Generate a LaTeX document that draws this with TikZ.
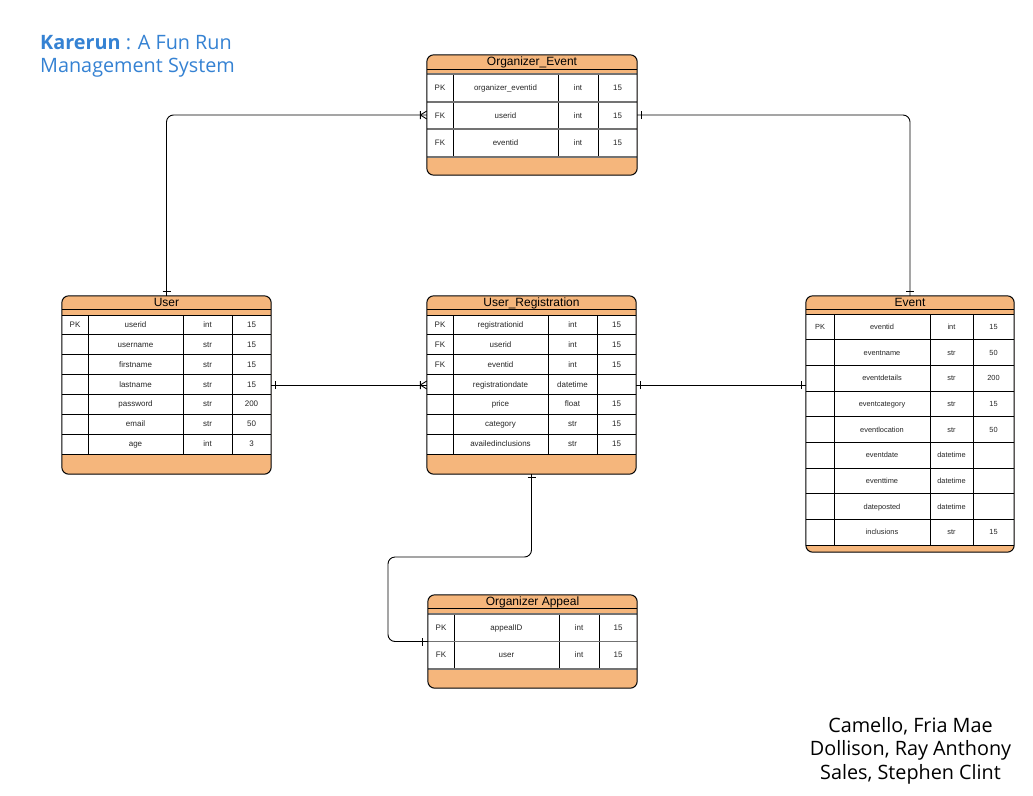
\documentclass[tikz,border=0pt]{standalone}
\usepackage{fontspec}
\setmainfont{Liberation Sans}
\newfontfamily\opensans{Open Sans}
\usetikzlibrary{fit}
\definecolor{tblorange}{HTML}{F5B67C}
\definecolor{ttlblue}{HTML}{3582D3}
\tikzset{
  tblbox/.style={inner sep=0pt, fill=tblorange, rounded corners=7pt},
  tblborder/.style={draw=black, line width=1pt, rounded corners=7pt},
  tblline/.style={draw=black, line width=0.9pt},
  sepline/.style={draw=black, line width=0.9pt},
  cell/.style={inner sep=0pt, anchor=base, font=\fontsize{\cellsz}{\cellsz}\selectfont, text=black!85},
  tbltitle/.style={inner sep=0pt, anchor=base, font=\fontsize{12}{12}\selectfont},
  conn/.style={draw=black, line width=0.9pt, rounded corners=7pt},
  markline/.style={draw=black, line width=0.9pt},
  bigtxt/.style={anchor=base west, inner sep=0pt, font=\opensans\fontsize{19.8}{22}\selectfont},
  authortxt/.style={anchor=base, inner sep=0pt, font=\opensans\fontsize{19.8}{22}\selectfont, text=black},
}
\newcommand\setcols[5]{\def\xa{#1}\def\xb{#2}\def\ca{#3}\def\cb{#4}\def\cc{#5}}
\newcommand\ertable[9]{%
  \node[tblbox, fit={(\xa,#3) (\xb,#8)}] (#1) {};
  \fill[white] (\xa,#5) rectangle (\xb,#7);
  \draw[tblline] (\xa,#4) -- (\xb,#4);
  \draw[tblline] (\ca,#5) -- (\ca,#7) (\cb,#5) -- (\cb,#7) (\cc,#5) -- (\cc,#7);
  \draw[sepline] (\xa,#5) -- (\xb,#5);
  \foreach \rk/\rn/\rt/\rs [count=\ri] in {#9} {
    \pgfmathsetmacro\yb{#5+\ri*#6}
    \pgfmathsetmacro\ym{#5+(\ri-0.5)*#6+2.6}
    \draw[sepline] (\xa,\yb) -- (\xb,\yb);
    \node[cell] (#1-\ri-k) at ({(\xa+\ca)/2},\ym) {\rk};
    \node[cell] (#1-\ri-n) at ({(\ca+\cb)/2},\ym) {\rn};
    \node[cell] (#1-\ri-t) at ({(\cb+\cc)/2},\ym) {\rt};
    \node[cell] (#1-\ri-s) at ({(\cc+\xb)/2},\ym) {\rs};
  }
  \draw[tblborder] (#1.north west) rectangle (#1.south east);
  \node[tbltitle] (#1-title) at ({(\xa+\xb)/2},{#3+10.3}) {#2};
}
\newcommand\barH[3]{\draw[markline] ([xshift=#2-4pt,yshift=#3]#1) -- ([xshift=#2+4pt,yshift=#3]#1);}
\newcommand\barV[3]{\draw[markline] ([xshift=#2,yshift=#3-4pt]#1) -- ([xshift=#2,yshift=#3+4pt]#1);}
\newcommand\crowW[1]{\draw[markline] ([xshift=-6.5pt]#1) -- ([yshift=4pt]#1) ([xshift=-6.5pt]#1) -- ([yshift=-4pt]#1) ([xshift=-6.5pt,yshift=4pt]#1) -- ([xshift=-6.5pt,yshift=-4pt]#1);}
\begin{document}
\begin{tikzpicture}[x=1pt,y=-1pt]
\useasboundingbox (0,0) rectangle (1033,795);
\fill[white] (0,0) rectangle (1033,795);

% Organizer_Event
\begin{scope}[sepline/.style={draw=black!55, line width=1.8pt}]
\setcols{427}{637}{453}{558}{598}\def\cellsz{7.9}
\ertable{oe}{Organizer\_Event}{55}{69}{74}{27.67}{157}{175}{PK/organizer\_eventid/int/15, FK/userid/int/15, FK/eventid/int/15}
\end{scope}

% User
\setcols{62}{271}{88}{183}{232}\def\cellsz{8}
\ertable{user}{User}{296}{309}{315}{19.86}{454}{474}{PK/userid/int/15, {}/username/str/15, {}/firstname/str/15, {}/lastname/str/15, {}/password/str/200, {}/email/str/50, {}/age/int/3}

% User_Registration
\setcols{427}{636}{453}{548}{597}\def\cellsz{8}
\ertable{ur}{User\_Registration}{296}{309}{315}{19.86}{454}{474}{PK/registrationid/int/15, FK/userid/int/15, FK/eventid/int/15, {}/registrationdate/datetime/{}, {}/price/float/15, {}/category/str/15, {}/availedinclusions/str/15}

% Event
\setcols{806}{1014}{834}{930}{973}\def\cellsz{7.4}
\ertable{event}{Event}{296}{309}{314}{25.67}{545}{552}{PK/eventid/int/15, {}/eventname/str/50, {}/eventdetails/str/200, {}/eventcategory/str/15, {}/eventlocation/str/50, {}/eventdate/datetime/{}, {}/eventtime/datetime/{}, {}/dateposted/datetime/{}, {}/inclusions/str/15}

% Organizer Appeal
\begin{scope}[sepline/.style={draw=black!55, line width=1.8pt}]
\setcols{428}{637}{454}{559}{599}\def\cellsz{8}
\ertable{oa}{Organizer Appeal}{595}{608}{614}{27.5}{669}{688}{PK/appealID/int/15, FK/user/int/15}
\end{scope}

% connectors
\coordinate (bendA) at (388,557);
\coordinate (evin) at (ur.east -| event.west);
\draw[conn] (user.north) |- (oe.west);
\draw[conn] (event.north) |- (oe.east);
\draw[conn] (user.east) -- (ur.west);
\draw[conn] (ur.east) -- (evin);
\draw[conn] (ur.south) |- (bendA) |- (oa.west);

% end markers
\barH{user.north}{0pt}{4.5pt}
\barH{event.north}{0pt}{4pt}
\barV{oe.east}{4pt}{0pt}
\crowW{oe.west}
\barV{user.east}{4pt}{0pt}
\crowW{ur.west}
\barV{ur.east}{4pt}{0pt}
\barV{evin}{-4.3pt}{0pt}
\barH{ur.south}{0pt}{-3.5pt}
\barV{oa.west}{-5pt}{0pt}

% title
\node[bigtxt, text=ttlblue] (title1) at (40,49.5) {\textbf{Karerun} : A Fun Run};
\node[bigtxt, text=ttlblue] (title2) at (40,72) {Management System};

% authors
\node[authortxt] (author1) at (910.5,732) {Camello, Fria Mae};
\node[authortxt] (author2) at (910.5,755.7) {Dollison, Ray Anthony};
\node[authortxt] (author3) at (910.5,779.3) {Sales, Stephen Clint};
\end{tikzpicture}
\end{document}
